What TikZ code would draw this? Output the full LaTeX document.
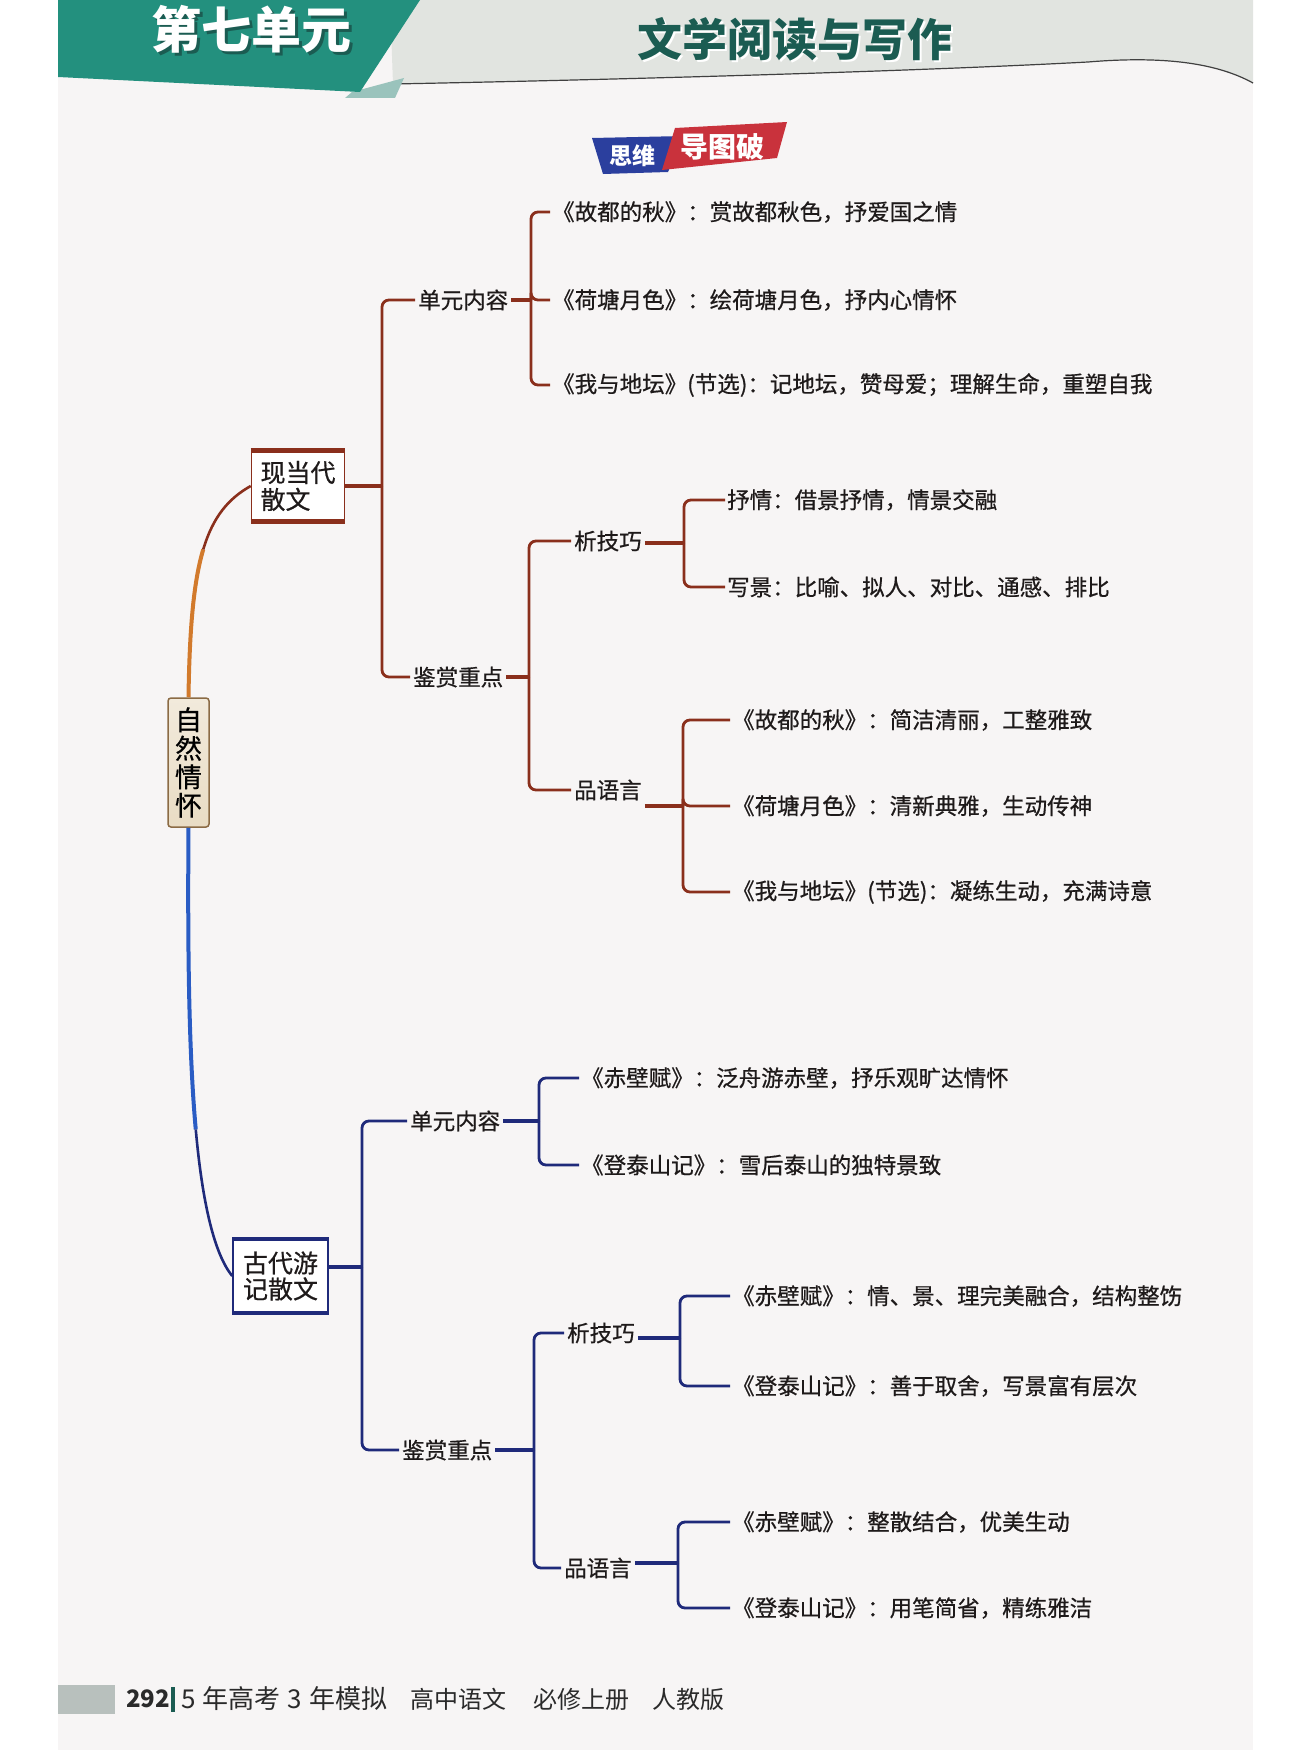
\documentclass[tikz,border=0pt]{standalone}
\usepackage{fontspec}
\setmainfont{Noto Sans CJK SC}
\newfontfamily\cjk{Noto Sans CJK SC}
\newfontfamily\hand{Noto Sans CJK SC}[FakeBold=0.6]
\usetikzlibrary{calc}
\definecolor{brn}{HTML}{8A2F1C}
\definecolor{org}{HTML}{D27A2C}
\definecolor{nvy}{HTML}{1F2A7A}
\definecolor{blu}{HTML}{2A5CC4}
\definecolor{ink}{HTML}{1E1A1A}
\definecolor{tealband}{HTML}{23907E}
\definecolor{tealdark}{HTML}{1B5C52}
\definecolor{bannergray}{HTML}{E1E4E0}
\definecolor{pagebg}{HTML}{F7F5F5}
\definecolor{rootfill}{HTML}{E9DCC4}
\definecolor{rootdraw}{HTML}{8B6B45}
\definecolor{badgeblue}{HTML}{2B3F9E}
\definecolor{badgered}{HTML}{C9323C}
\definecolor{footgray}{HTML}{B8C0BD}
\definecolor{foottext}{HTML}{2A2A2A}
\begin{document}
\begin{tikzpicture}[x=1pt,y=-1pt,
  leaf/.style={anchor=west, inner sep=2pt, text=ink, font=\hand\fontsize{22.5}{26}\selectfont},
  lab/.style={anchor=west, inner sep=3pt, text=ink, font=\hand\fontsize{22.5}{26}\selectfont},
  ubr/.style={draw=brn, line width=2.8pt, rounded corners=7pt},
  ustub/.style={draw=brn, line width=4.4pt},
  lbr/.style={draw=nvy, line width=2.8pt, rounded corners=7pt},
  lstub/.style={draw=nvy, line width=4.4pt},
  catbox/.style={rectangle, fill=white, line width=1.6pt, minimum width=93pt,
    minimum height=69pt, inner sep=0pt, align=left, text=ink,
    font=\hand\fontsize{25}{27}\selectfont},
  foot/.style={anchor=west, inner sep=0pt, text=foottext, font=\fontsize{24}{26}\selectfont}
]
\useasboundingbox (0,0) rectangle (1312,1750);
\fill[white] (0,0) rectangle (1312,1750);
\fill[pagebg] (58,0) rectangle (1253,1750);

% header banner
\fill[bannergray] (390,0) -- (1253,0) -- (1253,83)
  .. controls (1215,62) and (1160,56) .. (1088,62)
  .. controls (900,72) and (600,80) .. (393,84) -- cycle;
\draw[black!75, line width=1.2pt] (393,84) .. controls (600,80) and (900,72) .. (1088,62)
  .. controls (1160,56) and (1215,62) .. (1253,83);
\fill[black!15!tealband!45!white] (352,92) -- (404,78) -- (395,98) -- (345,98) -- cycle;
\fill[tealband] (58,0) -- (420,0) -- (360,92) -- (58,77) -- cycle;
\node[text=tealdark, font=\fontsize{50}{50}\selectfont\bfseries] (t1s) at (254,32) {第七单元};
\node[text=white, font=\fontsize{50}{50}\selectfont\bfseries] (t1) at (251,29) {第七单元};
\node[text=white, font=\fontsize{45}{45}\selectfont\bfseries] (t2s) at (797,41) {文学阅读与写作};
\node[text=tealdark, font=\fontsize{45}{45}\selectfont\bfseries] (t2) at (795,39) {文学阅读与写作};

% badge
\fill[badgeblue] (592,138) -- (684,136) -- (668,172) -- (603,174) -- cycle;
\fill[badgered] (675,128) -- (787,122) -- (777,158) -- (662,170) -- cycle;
\node[text=white, font=\fontsize{23}{23}\selectfont\bfseries] (bd1) at (632,156) {思维};
\node[text=white, font=\fontsize{28}{28}\selectfont\bfseries] (bd2) at (722,147) {导图破};

% root
\node[rectangle, rounded corners=3pt, draw=rootdraw, line width=1.5pt,
  top color=rootfill!60!white, bottom color=rootfill, minimum width=41pt,
  minimum height=129pt, inner sep=0pt, align=center, text=black,
  font=\hand\fontsize{27}{28.5}\selectfont] (root) at (188.5,762.5) {自\\然\\情\\怀};

% category boxes
\node[catbox, draw=brn] (box1) at (298,486) {现当代\\散文};
\draw[brn, line width=4.5pt] (box1.north west) -- (box1.north east);
\draw[brn, line width=4.5pt] (box1.south west) -- (box1.south east);
\node[catbox, draw=nvy, minimum width=95pt, minimum height=72pt,
  font=\hand\fontsize{25}{26}\selectfont] (box2) at (280.5,1276) {古代游\\记散文};
\draw[nvy, line width=4.5pt] (box2.north west) -- (box2.north east);
\draw[nvy, line width=4.5pt] (box2.south west) -- (box2.south east);

% curves from root
\coordinate (um) at (203.25,549.4);
\draw[org, line width=4pt] (root.north) .. controls (189.5,629) and (193.5,582) .. (um);
\draw[brn, line width=2.6pt] (um) .. controls (213,516.75) and (228.5,498.5) .. (box1.west);
\coordinate (bm) at (195.75,1129.4);
\draw[blu, line width=4pt] (root.south) .. controls (187.5,953.5) and (189,1054.25) .. (bm);
\draw[nvy, line width=2.6pt] (bm) .. controls (202.5,1204.5) and (214.5,1254) .. (box2.west);

% ---------- upper section ----------
\coordinate (J1) at (382,486);
\node[lab] (u1) at (415,300) {单元内容};
\node[lab] (k1) at (410,677) {鉴赏重点};
\coordinate (J2) at (531,300);
\coordinate (J3) at (529,677);
\node[leaf] (c1) at (550,212) {《故都的秋》：赏故都秋色，抒爱国之情};
\node[leaf] (c2) at (550,300) {《荷塘月色》：绘荷塘月色，抒内心情怀};
\node[leaf] (c3) at (550,385) {《我与地坛》(节选)：记地坛，赞母爱；理解生命，重塑自我};
\node[lab] (x1) at (571,541) {析技巧};
\node[lab] (p1) at (571,790) {品语言};
\coordinate (J4) at (684,543);
\coordinate (J5) at (683,806);
\node[leaf] (s1) at (725,500) {抒情：借景抒情，情景交融};
\node[leaf] (s2) at (725,587) {写景：比喻、拟人、对比、通感、排比};
\node[leaf] (y1) at (730,720) {《故都的秋》：简洁清丽，工整雅致};
\node[leaf] (y2) at (730,806) {《荷塘月色》：清新典雅，生动传神};
\node[leaf] (y3) at (730,892) {《我与地坛》(节选)：凝练生动，充满诗意};

\draw[ustub] (box1.east) -- (J1);
\draw[ubr] (J1) |- (u1.west);
\draw[ubr] (J1) |- (k1.west);
\draw[ustub] (u1.east |- J2) -- (J2);
\draw[ubr] (J2) |- (c1.west);
\draw[ubr] (J2) |- (c2.west);
\draw[ubr] (J2) |- (c3.west);
\draw[ustub] (k1.east |- J3) -- (J3);
\draw[ubr] (J3) |- (x1.west);
\draw[ubr] (J3) |- (p1.west);
\draw[ustub] (x1.east |- J4) -- (J4);
\draw[ubr] (J4) |- (s1.west);
\draw[ubr] (J4) |- (s2.west);
\draw[ustub] (p1.east |- J5) -- (J5);
\draw[ubr] (J5) |- (y1.west);
\draw[ubr] (J5) |- (y2.west);
\draw[ubr] (J5) |- (y3.west);

% ---------- lower section ----------
\coordinate (J6) at (362,1267);
\node[lab] (u2) at (407,1121) {单元内容};
\node[lab] (k2) at (399,1450) {鉴赏重点};
\coordinate (J7) at (539,1121);
\coordinate (J9) at (534,1450);
\node[leaf] (d1) at (579,1078) {《赤壁赋》：泛舟游赤壁，抒乐观旷达情怀};
\node[leaf] (d2) at (579,1165) {《登泰山记》：雪后泰山的独特景致};
\node[lab] (x2) at (564,1333) {析技巧};
\node[lab] (p2) at (561,1568) {品语言};
\coordinate (J8) at (680,1338);
\coordinate (J10) at (678,1563);
\node[leaf] (e1) at (730,1296) {《赤壁赋》：情、景、理完美融合，结构整饬};
\node[leaf] (e2) at (730,1386) {《登泰山记》：善于取舍，写景富有层次};
\node[leaf] (f1) at (730,1522) {《赤壁赋》：整散结合，优美生动};
\node[leaf] (f2) at (730,1608) {《登泰山记》：用笔简省，精练雅洁};

\draw[lstub] (box2.east |- J6) -- (J6);
\draw[lbr] (J6) |- (u2.west);
\draw[lbr] (J6) |- (k2.west);
\draw[lstub] (u2.east |- J7) -- (J7);
\draw[lbr] (J7) |- (d1.west);
\draw[lbr] (J7) |- (d2.west);
\draw[lstub] (k2.east |- J9) -- (J9);
\draw[lbr] (J9) |- (x2.west);
\draw[lbr] (J9) |- (p2.west);
\draw[lstub] (x2.east |- J8) -- (J8);
\draw[lbr] (J8) |- (e1.west);
\draw[lbr] (J8) |- (e2.west);
\draw[lstub] (p2.east |- J10) -- (J10);
\draw[lbr] (J10) |- (f1.west);
\draw[lbr] (J10) |- (f2.west);

% footer
\fill[footgray] (58,1685) rectangle (115,1714);
\node[foot, font=\fontsize{24}{26}\selectfont\bfseries] (pg) at (126,1699) {292};
\draw[tealdark, line width=4pt] (173,1687) -- (173,1712);
\node[foot, font=\fontsize{26}{28}\selectfont] (ft1) at (181,1699) {5\hspace{7pt}年高考\hspace{7pt}3\hspace{7pt}年模拟};
\node[foot] (ft2) at (410,1699) {高中语文};
\node[foot] (ft3) at (533,1699) {必修上册};
\node[foot] (ft4) at (652,1699) {人教版};
\end{tikzpicture}
\end{document}
